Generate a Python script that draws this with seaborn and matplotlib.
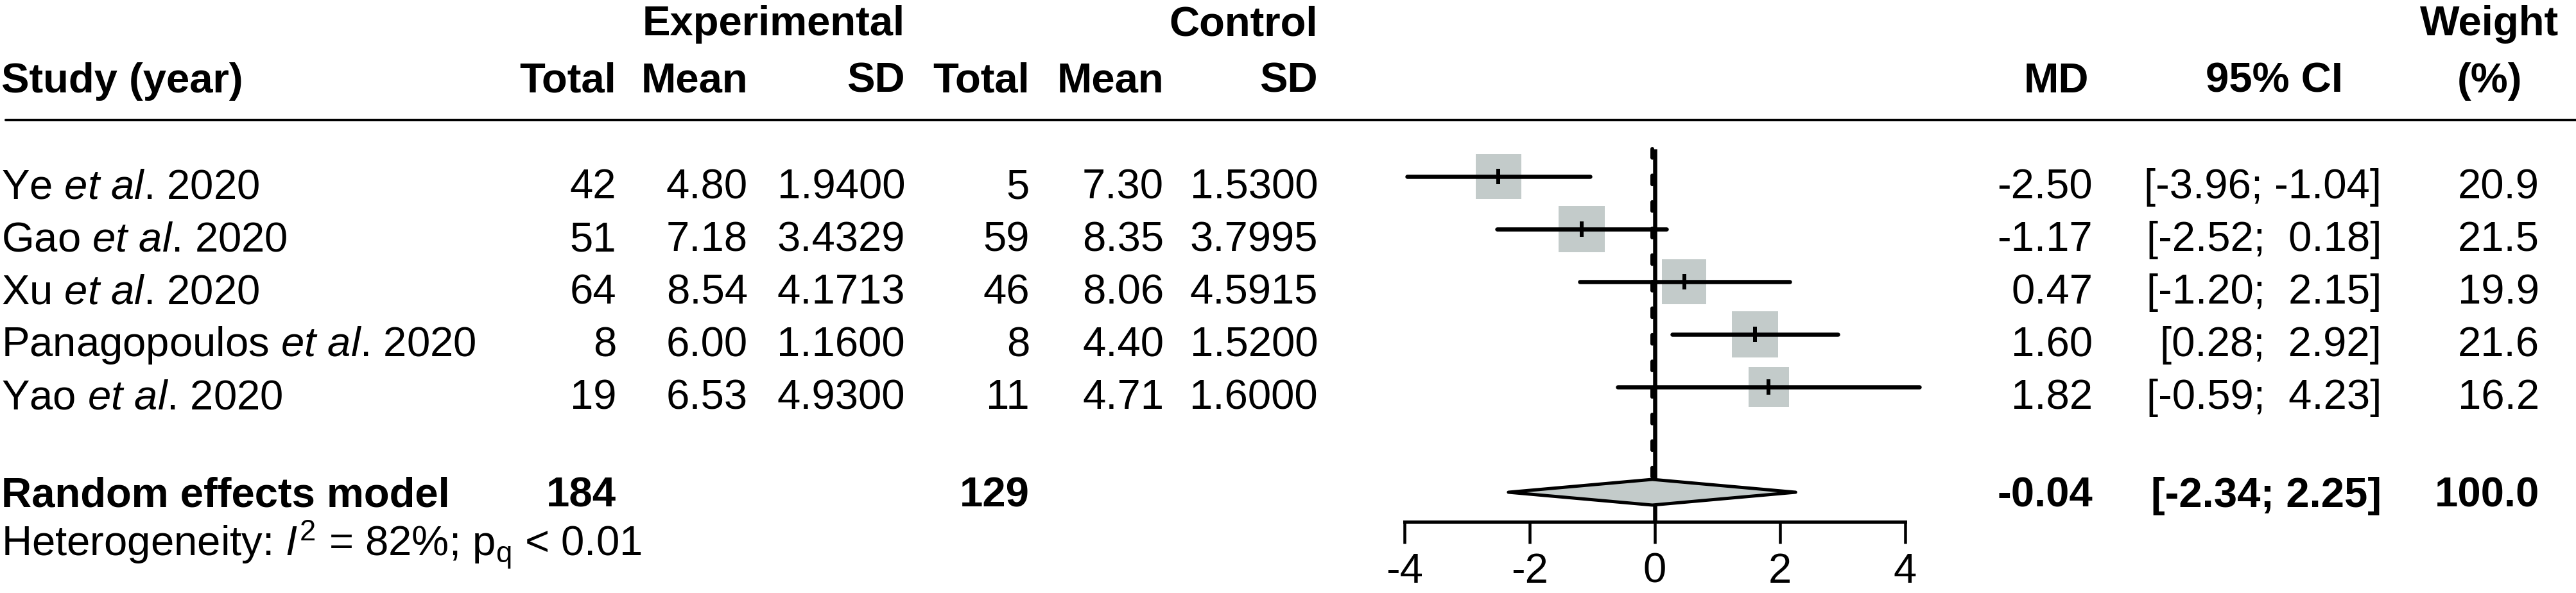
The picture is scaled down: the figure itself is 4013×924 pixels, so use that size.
import numpy as np
import pandas as pd
import matplotlib
matplotlib.use("Agg")
import matplotlib.pyplot as plt
from matplotlib.patches import Polygon
import seaborn as sns

# ---------------- data ----------------
studies = ["Ye", "Gao", "Xu", "Panagopoulos", "Yao"]
years = [2020, 2020, 2020, 2020, 2020]
exp_total = [42, 51, 64, 8, 19]
exp_mean = [4.80, 7.18, 8.54, 6.00, 6.53]
exp_sd = [1.9400, 3.4329, 4.1713, 1.1600, 4.9300]
ctrl_total = [5, 59, 46, 8, 11]
ctrl_mean = [7.30, 8.35, 8.06, 4.40, 4.71]
ctrl_sd = [1.5300, 3.7995, 4.5915, 1.5200, 1.6000]
md = [-2.50, -1.17, 0.47, 1.60, 1.82]
ci_low = [-3.96, -2.52, -1.20, 0.28, -0.59]
ci_high = [-1.04, 0.18, 2.15, 2.92, 4.23]
weight = [20.9, 21.5, 19.9, 21.6, 16.2]
pooled_md = -0.04
pooled_low = -2.34
pooled_high = 2.25
pooled_weight = 100.0
exp_sum = 184
ctrl_sum = 129
i2_pct = 82
p_text = "< 0.01"
x_ticks = [-4, -2, 0, 2, 4]

# ---------------- style ----------------
sns.set_theme(style="white")
FONT = "Liberation Sans"
plt.rcParams["font.family"] = [FONT, "DejaVu Sans"]
plt.rcParams["mathtext.fontset"] = "custom"
plt.rcParams["mathtext.rm"] = FONT
plt.rcParams["mathtext.it"] = FONT + ":italic"
plt.rcParams["mathtext.bf"] = FONT + ":bold"
plt.rcParams["axes.unicode_minus"] = False

FS = 47
SQ_COLOR = "#C3CBCA"
W, H = 4013, 924
PT = 72 / 100.0  # points per pixel at dpi 100

# layout (pixels)
row0_px, row_step = 275, 82
zero_px, unit_px = 2578, 97.5
ax_left_px, ax_right_px = 2100, 3070


def px_to_row(px):
    return 1 + (px - row0_px) / row_step


fig = plt.figure(figsize=(W / 100, H / 100), dpi=100)
fig.patch.set_facecolor("white")

# text layer in pixel coordinates
tx = fig.add_axes([0, 0, 1, 1])
tx.set_xlim(0, W)
tx.set_ylim(H, 0)
tx.axis("off")

# forest axes
ax = fig.add_axes([ax_left_px / W, 0, (ax_right_px - ax_left_px) / W, 1])
ax.patch.set_alpha(0)

rows = [1, 2, 3, 4, 5]
pooled_row = 7

df = pd.DataFrame({"md": md, "row": rows, "weight": weight})
maxw = max(weight)
sns.scatterplot(data=df, x="md", y="row", size="weight",
                sizes=(0, 125 * maxw), size_norm=(0, maxw),
                marker="s", color=SQ_COLOR, linewidth=0, legend=False,
                ax=ax, zorder=2)

lc = ax.hlines(rows, ci_low, ci_high, colors="black", lw=6.5 * PT, zorder=3)
lc.set_capstyle("round")
ax.plot(md, rows, ls="None", marker="|", ms=24 * PT, mew=6 * PT,
        color="black", zorder=4)

r_line_top = px_to_row(232)
r_axis = px_to_row(813)
hh = 20 / row_step

# reference line at 0 and pooled dashed line
ax.vlines(0, r_line_top, r_axis, colors="black", lw=6.5 * PT, zorder=3)
ax.plot([pooled_md, pooled_md], [r_line_top, pooled_row - hh], color="black",
        lw=6 * PT, dashes=(2.3, 4.6), dash_capstyle="round", zorder=2.5)

diamond = Polygon([(pooled_low, pooled_row), (pooled_md, pooled_row - hh),
                   (pooled_high, pooled_row), (pooled_md, pooled_row + hh)],
                  closed=True, facecolor=SQ_COLOR, edgecolor="black",
                  lw=5 * PT, joinstyle="round", zorder=5)
ax.add_patch(diamond)

ax.set_xlim((ax_left_px - zero_px) / unit_px, (ax_right_px - zero_px) / unit_px)
ax.set_ylim(px_to_row(H), px_to_row(0))
ax.set_xlabel("")
ax.set_ylabel("")
for s in ["left", "right", "top"]:
    ax.spines[s].set_visible(False)
ax.spines["bottom"].set_position(("data", r_axis))
ax.spines["bottom"].set_bounds(x_ticks[0], x_ticks[-1])
ax.spines["bottom"].set_linewidth(5 * PT)
ax.spines["bottom"].set_color("black")
ax.set_xticks(x_ticks)
ax.set_xticklabels([str(t) for t in x_ticks])
ax.set_yticks([])
ax.tick_params(axis="x", direction="out", length=34 * PT, width=4.5 * PT,
               pad=14 * PT, labelsize=FS, colors="black", bottom=True)
ax.grid(False)

# ---------------- table text ----------------
def put(x, y, s, ha="right", bold=False):
    tx.text(x, y, s, ha=ha, va="baseline", fontsize=FS,
            fontweight="bold" if bold else "normal", color="black")

c_name = 2
c_et, c_em, c_es = 960, 1165, 1410
c_ct, c_cm, c_cs = 1604, 1813, 2053
c_md, c_ci, c_w = 3260, 3710, 3956
c_wh = 3878

h1, h2 = 55, 144
put(c_es, h1, "Experimental", bold=True)
put(c_cs, h1, "Control", bold=True)
put(c_wh, h1, "Weight", ha="center", bold=True)
put(c_name, h2, "Study (year)", ha="left", bold=True)
put(c_et, h2, "Total", bold=True)
put(c_em, h2, "Mean", bold=True)
put(c_es, h2, "SD", bold=True)
put(c_ct, h2, "Total", bold=True)
put(c_cm, h2, "Mean", bold=True)
put(c_cs, h2, "SD", bold=True)
put(c_md - 6, h2, "MD", bold=True)
put(3543, h2, "95% CI", ha="center", bold=True)
put(c_wh, h2, "(%)", ha="center", bold=True)

tx.axhline(187, xmin=9 / W, xmax=1, color="black", lw=4 * PT)

for i in range(len(studies)):
    y = 309 + i * row_step
    put(c_name, y, f"{studies[i]} " + r"$\mathit{et\ al}$" + f". {years[i]}", ha="left")
    put(c_et, y, f"{exp_total[i]}")
    put(c_em, y, f"{exp_mean[i]:.2f}")
    put(c_es, y, f"{exp_sd[i]:.4f}")
    put(c_ct, y, f"{ctrl_total[i]}")
    put(c_cm, y, f"{ctrl_mean[i]:.2f}")
    put(c_cs, y, f"{ctrl_sd[i]:.4f}")
    put(c_md, y, f"{md[i]:.2f}")
    put(c_ci, y, f"[{ci_low[i]:.2f}; {ci_high[i]:5.2f}]")
    put(c_w, y, f"{weight[i]:.1f}")

ys = 790
put(c_name, ys, "Random effects model", ha="left", bold=True)
put(c_et, ys, f"{exp_sum}", bold=True)
put(c_ct, ys, f"{ctrl_sum}", bold=True)
put(c_md, ys, f"{pooled_md:.2f}", bold=True)
put(c_ci, ys, f"[{pooled_low:.2f}; {pooled_high:.2f}]", bold=True)
put(c_w, ys, f"{pooled_weight:.1f}", bold=True)

put(c_name, 868, r"Heterogeneity: $\mathit{I}^{2}$" + f" = {i2_pct}%; "
    + r"$\mathrm{p}_{\mathrm{q}}$" + f" {p_text}", ha="left")

fig.savefig("out.png", dpi=100, facecolor="white")
